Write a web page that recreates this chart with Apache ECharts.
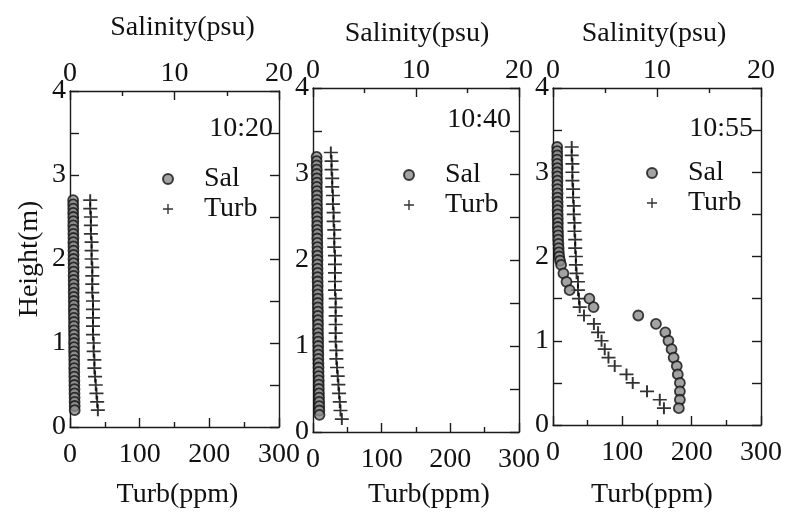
<!DOCTYPE html>
<html><head><meta charset="utf-8">
<script src="https://cdn.jsdelivr.net/npm/echarts@6/dist/echarts.min.js"></script>
<style>html,body{margin:0;padding:0;background:#fff}#c{width:786px;height:514px}</style>
</head><body><div id="c"></div>
<script>
const times = ['10:20', '10:40', '10:55'];
const seriesNames = ['Sal', 'Turb'];
const salTicks = [0, 10, 20];
const turbTicks = [0, 100, 200, 300];
const heightTicks = [0, 1, 2, 3, 4];

// 10:20
const sal1H = [2.7,2.65,2.6,2.55,2.5,2.45,2.4,2.35,2.3,2.25,2.2,2.15,2.1,2.05,2.0,1.95,1.9,1.85,1.8,1.75,1.7,1.65,1.6,1.55,1.5,1.45,1.4,1.35,1.3,1.25,1.2,1.15,1.1,1.05,1.0,0.95,0.9,0.85,0.8,0.75,0.7,0.65,0.6,0.55,0.5,0.45,0.4,0.35,0.3,0.25,0.2];
const sal1 = [0.30,0.30,0.31,0.30,0.31,0.32,0.31,0.32,0.32,0.33,0.32,0.33,0.33,0.34,0.33,0.34,0.34,0.35,0.34,0.35,0.35,0.36,0.35,0.36,0.36,0.37,0.36,0.37,0.37,0.38,0.37,0.38,0.38,0.39,0.38,0.39,0.39,0.40,0.40,0.41,0.40,0.41,0.41,0.42,0.42,0.43,0.43,0.44,0.44,0.45,0.45];
const turb1H = [2.7,2.6,2.5,2.4,2.3,2.2,2.1,2.0,1.9,1.8,1.7,1.6,1.5,1.4,1.3,1.2,1.1,1.0,0.9,0.8,0.7,0.6,0.5,0.4,0.3,0.2];
const turb1 = [29,29,30,30,30,31,31,31,32,32,32,32,33,33,33,33,33,34,34,35,35,36,37,38,39,40];

// 10:40
const sal2H = [3.2,3.15,3.1,3.05,3.0,2.95,2.9,2.85,2.8,2.75,2.7,2.65,2.6,2.55,2.5,2.45,2.4,2.35,2.3,2.25,2.2,2.15,2.1,2.05,2.0,1.95,1.9,1.85,1.8,1.75,1.7,1.65,1.6,1.55,1.5,1.45,1.4,1.35,1.3,1.25,1.2,1.15,1.1,1.05,1.0,0.95,0.9,0.85,0.8,0.75,0.7,0.65,0.6,0.55,0.5,0.45,0.4,0.35,0.3,0.25,0.2];
const sal2 = [0.35,0.36,0.35,0.37,0.36,0.37,0.38,0.37,0.38,0.39,0.38,0.39,0.40,0.39,0.40,0.41,0.40,0.41,0.42,0.41,0.42,0.43,0.42,0.43,0.44,0.43,0.44,0.45,0.44,0.45,0.46,0.45,0.46,0.47,0.46,0.47,0.48,0.47,0.48,0.49,0.48,0.49,0.50,0.50,0.51,0.51,0.52,0.52,0.53,0.54,0.54,0.55,0.56,0.56,0.57,0.58,0.59,0.60,0.61,0.62,0.63];
const turb2H = [3.25,3.15,3.05,2.95,2.85,2.75,2.65,2.55,2.45,2.35,2.25,2.15,2.05,1.95,1.85,1.75,1.65,1.55,1.45,1.35,1.25,1.15,1.05,0.95,0.85,0.75,0.65,0.55,0.45,0.35,0.25,0.15];
const turb2 = [26,27,27,28,28,29,29,30,30,31,31,31,32,32,32,32,32,33,33,33,33,33,33,34,34,35,36,37,38,39,40,42];

// 10:55
const sal3H = [3.3,3.25,3.2,3.15,3.1,3.05,3.0,2.95,2.9,2.85,2.8,2.75,2.7,2.65,2.6,2.55,2.5,2.45,2.4,2.35,2.3,2.25,2.2,2.15,2.1,2.05,2.0,1.95,1.9,1.8,1.7,1.6,1.5,1.4,1.3,1.2,1.1,1.0,0.9,0.8,0.7,0.6,0.5,0.4,0.3,0.2];
const sal3 = [0.40,0.40,0.41,0.40,0.41,0.42,0.41,0.42,0.43,0.42,0.43,0.44,0.43,0.44,0.45,0.44,0.45,0.46,0.47,0.46,0.48,0.49,0.50,0.52,0.54,0.56,0.60,0.68,0.78,1.0,1.3,1.6,3.5,3.9,8.2,9.9,10.8,11.1,11.4,11.6,11.9,12.0,12.2,12.2,12.2,12.1];
const turb3H = [3.3,3.2,3.1,3.0,2.9,2.8,2.7,2.6,2.5,2.4,2.3,2.2,2.1,2.0,1.9,1.8,1.7,1.6,1.5,1.4,1.3,1.2,1.1,1.0,0.9,0.8,0.7,0.6,0.5,0.4,0.3,0.2];
const turb3 = [27,27,28,28,28,29,29,30,30,31,31,32,32,33,33,34,36,36,37.5,38.5,44.7,59,65,70,74.6,80,89,106,115,135.6,154,160];

const panels = [
  {time: times[0], salH: sal1H, sal: sal1, turbH: turb1H, turb: turb1},
  {time: times[1], salH: sal2H, sal: sal2, turbH: turb2H, turb: turb2},
  {time: times[2], salH: sal3H, sal: sal3, turbH: turb3H, turb: turb3}
];

// layout
const gridBoxes = [
  {left: 70, top: 91, width: 209, height: 343},
  {left: 313, top: 88, width: 206, height: 349},
  {left: 553, top: 88, width: 208, height: 350}
];
const timePos = [{right: 786 - 273, top: 115}, {right: 786 - 511, top: 106}, {right: 786 - 753, top: 115}];
const legendPos = [{left: 162, top: 165}, {left: 403, top: 161}, {left: 646, top: 159}];
const salNameGap = [49, 40, 40];
const salNamePad = [[0, 0, 0, 16], [0, 0, 0, 2], [0, 6, 0, 0]];
const turbNameGap = [54, 49, 56];
const turbNamePad = [[0, 0, 0, 6], [0, 0, 0, 26], [0, 10, 0, 0]];

const FONT = 'Liberation Serif';
const INK = '#111';
const lineStyle = {color: '#1a1a1a', width: 1.4};
const crossPath = 'path://M0,4.3L10,4.3L10,5.7L0,5.7Z M4.3,0L5.7,0L5.7,10L4.3,10Z';

const grid = [], xAxis = [], yAxis = [], series = [], title = [], legend = [];
panels.forEach((p, i) => {
  grid.push(Object.assign({containLabel: false}, gridBoxes[i]));
  const common = {
    gridIndex: i, type: 'value', min: 0,
    axisLine: {show: true, onZero: false, lineStyle},
    splitLine: {show: false},
    axisTick: {show: true, inside: true, length: 9, lineStyle},
    minorTick: {show: true, inside: true, splitNumber: 2, length: 5, lineStyle},
    axisLabel: {fontSize: 28, fontFamily: FONT, color: INK, margin: 4},
    nameLocation: 'middle'
  };
  xAxis.push(Object.assign({}, common, {
    position: 'bottom', max: turbTicks[turbTicks.length - 1], interval: turbTicks[1] - turbTicks[0],
    axisLabel: Object.assign({}, common.axisLabel, {margin: 14}),
    name: 'Turb(ppm)', nameGap: turbNameGap[i],
    nameTextStyle: {fontSize: 28, fontFamily: FONT, color: INK, padding: turbNamePad[i]}
  }));
  xAxis.push(Object.assign({}, common, {
    position: 'top', max: salTicks[salTicks.length - 1], interval: salTicks[1] - salTicks[0],
    axisLabel: Object.assign({}, common.axisLabel, {margin: 3}),
    name: 'Salinity(psu)', nameGap: salNameGap[i],
    nameTextStyle: {fontSize: 28, fontFamily: FONT, color: INK, padding: salNamePad[i]}
  }));
  yAxis.push(Object.assign({}, common, {
    position: 'left', max: heightTicks[heightTicks.length - 1], interval: 0.5,
    minorTick: {show: false},
    axisLabel: Object.assign({}, common.axisLabel, {
      formatter: v => Number.isInteger(v) ? String(v) : ''
    }),
    name: i === 0 ? 'Height(m)' : '', nameGap: 26,
    nameTextStyle: {fontSize: 28, fontFamily: FONT, color: INK, padding: [0, 0, 0, 0]}
  }));
  yAxis.push(Object.assign({}, common, {
    position: 'right', max: heightTicks[heightTicks.length - 1], interval: 0.5,
    minorTick: {show: false}, axisLabel: {show: false}
  }));
  series.push({
    name: seriesNames[0], type: 'scatter', xAxisIndex: 2 * i + 1, yAxisIndex: 2 * i,
    data: p.sal.map((v, k) => [v, p.salH[k]]),
    symbol: 'circle', symbolSize: 10,
    itemStyle: {color: '#8c8c8c', borderColor: '#111', borderWidth: 1.8},
    z: 3
  });
  series.push({
    name: seriesNames[1], type: 'scatter', xAxisIndex: 2 * i, yAxisIndex: 2 * i,
    data: p.turb.map((v, k) => [v, p.turbH[k]]),
    symbol: crossPath, symbolSize: [14, 12], symbolKeepAspect: false,
    itemStyle: {color: '#000'},
    z: 2
  });
  title.push(Object.assign({
    text: p.time, padding: 0,
    textStyle: {fontSize: 28, fontFamily: FONT, color: INK, fontWeight: 'normal'}
  }, timePos[i]));
  legend.push(Object.assign({
    orient: 'vertical', padding: 0, itemGap: 2, itemWidth: 62, itemHeight: 10,
    selectedMode: false, data: seriesNames,
    textStyle: {fontSize: 28, fontFamily: FONT, color: INK}
  }, legendPos[i]));
});

const chart = echarts.init(document.getElementById('c'), null, {renderer: 'canvas'});
chart.setOption({backgroundColor: '#fff', animation: false, grid, xAxis, yAxis, series, title, legend});
</script></body></html>
